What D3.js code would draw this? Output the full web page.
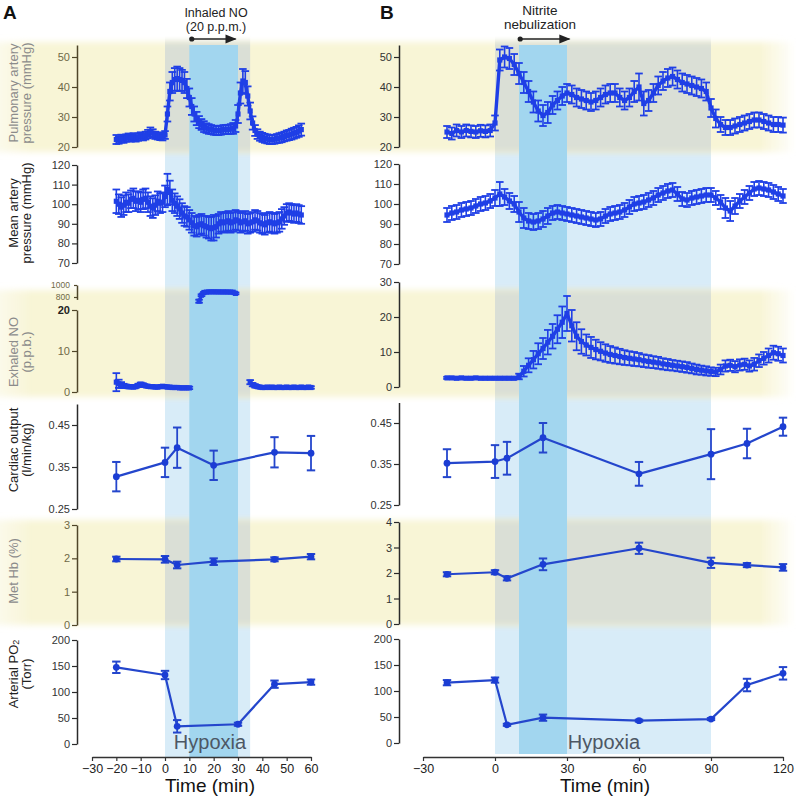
<!DOCTYPE html>
<html><head><meta charset="utf-8">
<script src="https://cdn.jsdelivr.net/npm/d3@7"></script>
<style>body{margin:0;background:#fff}svg{display:block;font-family:"Liberation Sans",Arial,sans-serif}</style>
</head><body><svg id="c" width="796" height="801"></svg>
<script>
// ---------------- DATA ----------------
const xTicksA = [-30,-20,-10,0,10,20,30,40,50,60];
const xTicksB = [-30,0,30,60,90,120];
const tA = d3.range(-20, 57, 1);      // dense sampling times, panel A (min)
const tB = d3.range(-20, 121, 2);     // dense sampling times, panel B (min)

const papA = [22.5,22.3,22.8,22.6,23.0,23.2,23.0,23.4,23.1,23.3,
  23.6,23.4,23.8,24.3,25.0,24.6,23.9,23.7,23.5,23.4,
  24.0,31.0,38.5,41.5,42.5,42.8,42.5,42.2,41.5,39.5,
  36.5,33.5,31.0,29.5,28.3,27.5,26.8,26.3,26.0,25.8,
  25.6,25.5,25.5,25.6,25.8,25.8,25.9,26.0,26.2,27.0,
  31.0,38.0,42.0,41.5,37.0,32.0,28.0,25.5,24.3,23.6,
  23.2,22.9,22.7,22.5,22.5,22.6,22.8,23.0,23.2,23.5,
  23.8,24.0,24.3,24.6,24.9,25.3,25.8];
const papAErr = [1.5,1.2,1.3,1.2,1.2,1.3,1.2,1.2,1.3,1.2,
  1.3,1.2,1.3,1.4,1.5,1.3,1.2,1.2,1.2,1.2,
  1.3,2.5,3.0,3.5,3.8,4.0,3.8,3.5,3.5,3.2,
  3.0,2.8,2.5,2.2,2.0,1.8,1.8,1.6,1.6,1.5,
  1.5,1.5,1.5,1.5,1.5,1.5,1.5,1.6,1.8,2.0,
  3.0,3.5,4.0,3.8,3.2,2.8,2.2,1.8,1.6,1.5,
  1.5,1.5,1.5,1.5,1.5,1.5,1.5,1.6,1.6,1.6,
  1.7,1.7,1.8,1.8,1.8,1.9,2.0];
const mapA = [101.5,100.0,98.5,99.5,101.0,100.5,102.5,103.0,101.5,102.0,
  101.0,102.5,103.0,101.0,99.0,98.0,99.5,101.5,100.5,101.0,
  104.0,107.5,106.0,102.0,100.5,99.0,97.5,95.5,94.0,93.5,
  92.0,90.5,89.0,88.5,89.5,90.0,89.0,88.5,88.0,87.5,
  88.0,88.5,90.0,91.0,90.5,91.0,91.5,90.5,91.0,92.0,
  91.5,90.5,91.0,91.5,90.0,90.5,91.0,92.0,91.5,90.5,
  90.0,89.5,90.5,91.0,90.5,90.0,90.5,91.0,92.5,94.0,
  95.5,96.0,95.5,95.0,95.5,95.0,94.5];
const mapAErr = [6,5,5,5,5,4.5,4.5,5,5,4.5,
  5,5,5,5,5,5,5,5,5,5,
  5.5,8,6,5.5,5,5,5,5,5,5,
  5,5,5,5,5,5,5,5.5,5.5,6,
  6.5,5.5,5,5,5,5,5,5,5,5,
  5,5,5,5,5,5,5,5,5,5,
  5,5,5,5,5,5,5,5,5,4.5,
  4.5,4.5,4.5,4.5,4.5,4.5,4.5];
const tNoA1 = d3.range(-20, 11, 1);
const noA1 = [2.4,2.0,1.7,1.5,1.4,1.3,1.3,1.2,1.3,1.6,
  1.9,1.7,1.5,1.4,1.3,1.3,1.2,1.2,1.3,1.4,
  1.3,1.2,1.2,1.1,1.1,1.1,1.0,1.0,1.0,1.0,1.0];
const noA1Err = [2.2,1.0,0.7,0.5,0.4,0.4,0.4,0.3,0.3,0.4,
  0.4,0.4,0.3,0.3,0.3,0.3,0.3,0.3,0.3,0.3,
  0.3,0.3,0.3,0.3,0.3,0.3,0.3,0.3,0.3,0.3,0.3];
const tNoAUp = d3.range(14, 30, 1);
const noAUp = [730,830,875,882,885,886,886,885,885,884,884,884,883,882,880,860];
const noAUpErr = [25,15,10,10,10,10,10,10,10,10,10,10,10,10,10,15];
const tNoA2 = d3.range(35, 61, 1);
const noA2 = [2.4,1.8,1.5,1.3,1.2,1.1,1.1,1.2,1.1,1.2,
  1.1,1.1,1.2,1.1,1.1,1.2,1.1,1.1,1.2,1.1,
  1.1,1.2,1.1,1.1,1.2,1.1];
const noA2Err = [0.5,0.4,0.4,0.3,0.3,0.3,0.3,0.3,0.3,0.3,
  0.3,0.3,0.3,0.3,0.3,0.3,0.3,0.3,0.3,0.3,
  0.3,0.3,0.3,0.3,0.3,0.3];

const papB = [25.0,24.5,25.5,25.0,25.5,25.2,25.0,25.4,25.2,25.5,
  28.0,49.0,50.0,49.5,47.5,44.5,41.5,38.5,35.0,32.0,
  30.5,31.5,34.0,35.5,37.0,38.0,37.5,36.5,36.0,35.5,
  35.0,35.5,36.5,37.5,38.0,38.0,36.5,35.5,36.5,38.5,
  40.0,34.5,35.5,38.0,40.5,42.0,43.0,43.5,42.5,41.5,
  41.0,40.5,40.0,39.5,38.5,33.0,29.5,27.5,26.5,26.5,
  27.0,27.5,28.0,28.5,29.0,29.0,28.5,28.0,27.5,27.5,
  27.3];
const papBErr = [2,2,2,2,2,2,2,2,2,2,
  2.5,3.5,3.5,3.5,3.5,3.5,3.5,3.5,3.5,3.5,
  3.5,3.5,3,3,3,3,3,3,3,3,
  3,3,3,3,3,3,3,3,3,3.5,
  4.5,4,3.5,3,3,3,3,3,3,3,
  3,3,3,3,3,3,3,2.5,2.5,2.5,
  2.5,2.5,2.5,2.5,2.5,2.5,2.5,2.5,2.5,2.5,
  2.5];
const mapB = [94.5,95.5,96.0,97.0,97.5,98.0,99.0,100.0,100.5,101.5,
  103.0,105.0,103.5,101.5,100.0,96.0,93.0,91.5,91.0,91.5,
  92.5,94.0,95.5,96.0,95.5,95.0,94.5,94.0,93.5,93.0,
  92.5,92.0,92.5,94.0,95.0,95.5,96.0,97.0,98.5,100.0,
  100.5,101.0,102.0,103.0,104.5,105.5,106.5,107.0,105.0,102.5,
  102.0,103.0,103.5,104.0,104.5,104.5,103.0,101.0,98.0,96.5,
  99.0,101.5,103.5,105.5,107.5,108.0,107.5,107.0,106.0,105.0,
  104.0];
const mapBErr = [3.5,3.5,3.5,3.5,3.5,3.5,3.5,3.5,3.5,3.5,
  4,6,4,4,4,5,5,4,4,4,
  4,4,3.5,3.5,3.5,3.5,3.5,3.5,3.5,3.5,
  3.5,3.5,3.5,3.5,3.5,3.5,3.5,3.5,3.5,3.5,
  3.5,3.5,3.5,3.5,3.5,3.5,3.5,3.5,3.5,3.5,
  3.5,3.5,3.5,3.5,3.5,3.5,3.5,3.5,5,5,
  4,3.5,3.5,3.5,3.5,3.5,3.5,3.5,3.5,3.5,
  3.5];
const noB = [2.6,2.6,2.5,2.6,2.5,2.5,2.6,2.5,2.5,2.5,
  2.5,2.5,2.5,2.5,2.5,3.0,4.5,6.2,7.8,9.5,
  11.0,12.8,14.5,16.5,18.5,21.0,17.5,14.5,13.0,12.0,
  11.3,10.7,10.2,9.7,9.3,9.0,8.7,8.4,8.2,8.0,
  7.8,7.5,7.3,7.1,6.9,6.6,6.4,6.2,6.0,5.8,
  5.6,5.3,5.0,4.8,4.6,4.4,4.3,5.0,6.0,6.2,
  5.8,6.3,6.5,6.0,6.5,7.5,8.2,9.0,9.8,9.5,
  9.0];
const noBErr = [0.3,0.3,0.3,0.3,0.3,0.3,0.3,0.3,0.3,0.3,
  0.3,0.3,0.3,0.3,0.3,0.8,1.5,2,2.5,3,
  3,3.5,3.5,4,4.5,5,4.5,4,3.5,3,
  3,2.8,2.6,2.5,2.4,2.3,2.2,2.1,2,2,
  1.9,1.8,1.8,1.7,1.7,1.6,1.6,1.5,1.5,1.5,
  1.5,1.4,1.4,1.3,1.3,1.2,1.2,1.4,1.6,1.6,
  1.6,1.6,1.6,1.6,1.8,1.8,1.8,2,2,2,
  2];

const tSparseA = [-20,0,5,20,45,60];
const coA = [0.327,0.361,0.396,0.354,0.385,0.383];
const coAErr = [0.035,0.035,0.048,0.035,0.036,0.041];
const metA = [1.98,1.97,1.80,1.90,1.97,2.05];
const metAErr = [0.07,0.10,0.10,0.10,0.06,0.08];
const tPo2A = [-20,0,5,30,45,60];
const po2A = [147.5,132.7,34,38,115,119];
const po2AErr = [11,8,12,3,7,5];

const tSparseB = [-20,0,5,20,60,90,105,120];
const coB = [0.352,0.356,0.364,0.414,0.326,0.374,0.400,0.441];
const coBErr = [0.034,0.040,0.040,0.036,0.029,0.061,0.036,0.022];
const metB = [1.95,2.03,1.79,2.34,2.97,2.40,2.31,2.22];
const metBErr = [0.08,0.08,0.08,0.23,0.22,0.20,0.08,0.13];
const po2B = [116,121,35,48.7,43,46,111.5,134];
const po2BErr = [5,5,2,6,2,2,12,12];

const inhaledNO = [11, 29];
const nitriteNeb = [10.5, 31];

// ---------------- LAYOUT ----------------
const svg = d3.select('#c');
const xA = d3.scaleLinear().domain([-30,60]).range([92,311]);
const xB = d3.scaleLinear().domain([-30,120]).range([423,783]);
const colA = {x:xA, ax:77, light:[0,35], dark:[10,30], top:45, bot:757, left:true};
const colB = {x:xB, ax:399, light:[0,90], dark:[10,30], top:45, bot:754, left:false};

const yellowBands = [[42,152],[290,397],[520,625]];

const defs = svg.append('defs');
const yg = defs.append('linearGradient').attr('id','yg').attr('x1',0).attr('x2',1).attr('y1',0).attr('y2',0);
[[0,0.5],[0.04,1],[0.955,1],[1,0]].forEach(([o,a])=>yg.append('stop').attr('offset',o).attr('stop-color','#f8f5d6').attr('stop-opacity',a));
const f = defs.append('filter').attr('id','vb').attr('x','-5%').attr('y','-30%').attr('width','110%').attr('height','160%');
f.append('feGaussianBlur').attr('stdDeviation','0 3');

// light bands
[colA,colB].forEach(c=>{
  svg.append('rect').attr('x',c.x(c.light[0])).attr('width',c.x(c.light[1])-c.x(c.light[0]))
    .attr('y',c.top).attr('height',c.bot-c.top).attr('fill','#d8ecf8');
});
// yellow bands
yellowBands.forEach(([y0,y1])=>{
  svg.append('rect').attr('x',0).attr('width',796).attr('y',y0).attr('height',y1-y0)
    .attr('fill','url(#yg)').attr('filter','url(#vb)');
  [colA,colB].forEach(c=>{
    svg.append('rect').attr('x',c.x(c.light[0])).attr('width',c.x(c.light[1])-c.x(c.light[0]))
      .attr('y',y0).attr('height',y1-y0).attr('fill','#dadfd6').attr('filter','url(#vb)');
  });
});
// dark bands
[colA,colB].forEach(c=>{
  svg.append('rect').attr('x',c.x(c.dark[0])).attr('width',c.x(c.dark[1])-c.x(c.dark[0]))
    .attr('y',c.top).attr('height',c.bot-c.top).attr('fill','#a2d6ef');
});

// ---------------- AXES ----------------
function yAxis(c, scale, ticks, fmt, yellow, fs){
  const g = svg.append('g').attr('transform',`translate(${c.ax},0)`)
    .call(d3.axisLeft(scale).tickValues(ticks).tickSize(5).tickSizeOuter(0).tickPadding(2).tickFormat(fmt));
  const lc = (yellow && c.left) ? '#4f4528' : '#2a2a2a';
  const tc = (yellow && c.left) ? '#6f6947' : '#333';
  g.select('.domain').attr('stroke',lc).attr('stroke-width',1.5);
  g.selectAll('.tick line').attr('stroke',lc).attr('stroke-width',1.2);
  g.selectAll('.tick text').attr('font-size',fs||11).attr('fill',tc).attr('font-family','"Liberation Sans",Arial,sans-serif');
  return g;
}
const fd = d3.format('d'), f2 = d3.format('.2f');

const S = {
  A:{
    pap:d3.scaleLinear().domain([20,54]).range([147,45]),
    map:d3.scaleLinear().domain([70,120]).range([263,165]),
    no:d3.scaleLinear().domain([0,20]).range([392,310]),
    noUp:d3.scaleLinear().domain([760,1000]).range([299.4,285]),
    co:d3.scaleLinear().domain([0.25,0.5]).range([509,404]),
    met:d3.scaleLinear().domain([0,3]).range([625,525]),
    po2:d3.scaleLinear().domain([0,200]).range([744,640])
  },
  B:{
    pap:d3.scaleLinear().domain([20,54]).range([147,45]),
    map:d3.scaleLinear().domain([70,120]).range([264,164]),
    no:d3.scaleLinear().domain([0,30]).range([387,282]),
    co:d3.scaleLinear().domain([0.25,0.5]).range([505,402.5]),
    met:d3.scaleLinear().domain([0,4]).range([624,522]),
    po2:d3.scaleLinear().domain([0,200]).range([743,639])
  }
};

yAxis(colA,S.A.pap,[20,30,40,50],fd,true);
yAxis(colA,S.A.map,[70,80,90,100,110,120],fd,false);
const gNo = yAxis(colA,S.A.no,[0,10,20],fd,true);
gNo.selectAll('.tick text').filter(d=>d===20).attr('font-weight','bold').attr('fill','#222');
yAxis(colA,S.A.noUp,[800,1000],fd,true,8.5).selectAll('.tick line').attr('x2',-3);
yAxis(colA,S.A.co,[0.25,0.35,0.45],f2,false);
yAxis(colA,S.A.met,[0,1,2,3],fd,true);
yAxis(colA,S.A.po2,[0,50,100,150,200],fd,false);

yAxis(colB,S.B.pap,[20,30,40,50],fd,true);
yAxis(colB,S.B.map,[70,80,90,100,110,120],fd,false);
yAxis(colB,S.B.no,[0,10,20,30],fd,true);
yAxis(colB,S.B.co,[0.25,0.35,0.45],f2,false);
yAxis(colB,S.B.met,[0,1,2,3,4],fd,true);
yAxis(colB,S.B.po2,[0,50,100,150,200],fd,false);

[[colA,xTicksA],[colB,xTicksB]].forEach(([c,ticks])=>{
  const g = svg.append('g').attr('transform','translate(0,757)')
    .call(d3.axisBottom(c.x).tickValues(ticks).tickSize(4).tickSizeOuter(0).tickPadding(3));
  g.select('.domain').attr('stroke','#333').attr('stroke-width',1.6);
  g.selectAll('.tick line').attr('stroke','#333').attr('stroke-width',1.2);
  g.selectAll('.tick text').attr('font-size',12.5).attr('fill','#222').attr('font-family','"Liberation Sans",Arial,sans-serif');
});

// ---------------- DATA MARKS ----------------
function series(x, y, times, vals, errs, dense){
  const col = dense ? '#1f3fe6' : '#2446cc';
  const g = svg.append('g');
  const pts = times.map((t,i)=>({t, v:vals[i], e:errs[i]}));
  g.append('path').datum(pts).attr('fill','none').attr('stroke',col)
    .attr('stroke-width',dense?3.4:2.2).attr('stroke-linejoin','round')
    .attr('d',d3.line().x(d=>x(d.t)).y(d=>y(d.v)));
  const cw = dense ? 3.8 : 4.2;
  const p = g.selectAll(null).data(pts).enter().append('g');
  p.append('line').attr('x1',d=>x(d.t)).attr('x2',d=>x(d.t)).attr('y1',d=>y(d.v-d.e)).attr('y2',d=>y(d.v+d.e))
    .attr('stroke',col).attr('stroke-width',dense?1.6:1.8);
  [1,-1].forEach(s=>{
    p.append('line').attr('x1',d=>x(d.t)-cw).attr('x2',d=>x(d.t)+cw)
      .attr('y1',d=>y(d.v+s*d.e)).attr('y2',d=>y(d.v+s*d.e))
      .attr('stroke',col).attr('stroke-width',dense?1.8:2);
  });
  if(dense){
    p.append('rect').attr('x',d=>x(d.t)-2.6).attr('y',d=>y(d.v)-2.6).attr('width',5.2).attr('height',5.2).attr('fill',col);
  } else {
    p.append('circle').attr('cx',d=>x(d.t)).attr('cy',d=>y(d.v)).attr('r',3.4).attr('fill','#1b3dd4');
  }
}
series(xA,S.A.pap,tA,papA,papAErr,true);
series(xA,S.A.map,tA,mapA,mapAErr,true);
series(xA,S.A.no,tNoA1,noA1,noA1Err,true);
series(xA,S.A.noUp,tNoAUp,noAUp,noAUpErr,true);
series(xA,S.A.no,tNoA2,noA2,noA2Err,true);
series(xA,S.A.co,tSparseA,coA,coAErr,false);
series(xA,S.A.met,tSparseA,metA,metAErr,false);
series(xA,S.A.po2,tPo2A,po2A,po2AErr,false);

series(xB,S.B.pap,tB,papB,papBErr,true);
series(xB,S.B.map,tB,mapB,mapBErr,true);
series(xB,S.B.no,tB,noB,noBErr,true);
series(xB,S.B.co,tSparseB,coB,coBErr,false);
series(xB,S.B.met,tSparseB,metB,metBErr,false);
series(xB,S.B.po2,tSparseB,po2B,po2BErr,false);

// ---------------- TEXT ----------------
function txt(x,y,s,opt){
  const t = svg.append('text').attr('x',x).attr('y',y).text(s);
  Object.entries(opt||{}).forEach(([k,v])=>t.attr(k,v));
  return t;
}
txt(3,19,'A',{'font-size':19,'font-weight':'bold','fill':'#111'});
txt(380,19,'B',{'font-size':19,'font-weight':'bold','fill':'#111'});

txt(216,17,'Inhaled NO',{'font-size':12.5,'text-anchor':'middle','fill':'#222'});
txt(216,31,'(20 p.p.m.)',{'font-size':12.5,'text-anchor':'middle','fill':'#222'});
txt(540,15,'Nitrite',{'font-size':13.5,'text-anchor':'middle','fill':'#222'});
txt(540,29,'nebulization',{'font-size':13.5,'text-anchor':'middle','fill':'#222'});

defs.append('marker').attr('id','ah').attr('viewBox','0 0 10 10').attr('refX',9).attr('refY',5)
  .attr('markerWidth',7).attr('markerHeight',7).attr('orient','auto')
  .append('path').attr('d','M0,1L10,5L0,9Z').attr('fill','#222');
[[xA,inhaledNO],[xB,nitriteNeb]].forEach(([x,r])=>{
  svg.append('line').attr('x1',x(r[0])).attr('x2',x(r[1])).attr('y1',39).attr('y2',39)
    .attr('stroke','#222').attr('stroke-width',1.6).attr('marker-end','url(#ah)');
  svg.append('circle').attr('cx',x(r[0])).attr('cy',39).attr('r',2.6).attr('fill','#222');
});

txt(210,749,'Hypoxia',{'font-size':20,'text-anchor':'middle','fill':'#4d5764'});
txt(604,749,'Hypoxia',{'font-size':20,'text-anchor':'middle','fill':'#4d5764'});
txt(210,792,'Time (min)',{'font-size':19,'text-anchor':'middle','fill':'#111'});
txt(605,792,'Time (min)',{'font-size':19,'text-anchor':'middle','fill':'#111'});

function ylab(cy, lines, yellow){
  const fill = yellow ? '#8b8b8b' : '#222';
  const xs = lines.length===2 ? [13,26] : [13];
  lines.forEach((l,i)=>{
    const t = svg.append('text').attr('transform',`translate(${xs[i]},${cy}) rotate(-90)`)
      .attr('text-anchor','middle').attr('dominant-baseline','central').attr('font-size',13).attr('fill',fill);
    if(Array.isArray(l)){
      t.append('tspan').text(l[0]);
      t.append('tspan').attr('font-size',9).attr('dy',3).text(l[1]);
    } else t.text(l);
  });
}
ylab(93,['Pulmonary artery','pressure (mmHg)'],true);
ylab(213,['Mean artery','pressure (mmHg)'],false);
ylab(352,['Exhaled NO','(p.p.b.)'],true);
ylab(450,['Cardiac output','(l/min/kg)'],false);
ylab(571,['Met Hb (%)'],true);
ylab(674,[['Arterial PO','2'],'(Torr)'],false);
</script></body></html>
